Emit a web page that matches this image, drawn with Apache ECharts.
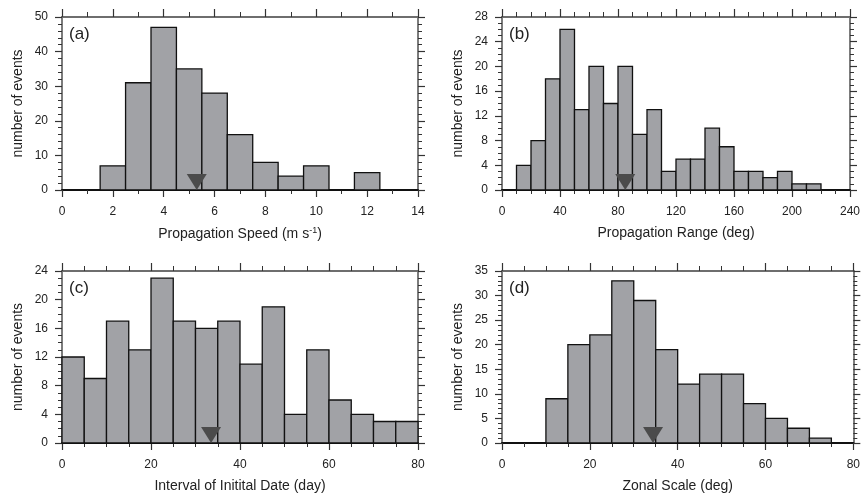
<!DOCTYPE html>
<html>
<head>
<meta charset="utf-8">
<script src="https://cdn.jsdelivr.net/npm/echarts@6/dist/echarts.min.js"></script>
<style>
  html, body { margin: 0; padding: 0; background: #fff; }
  #chart { width: 863px; height: 496px; }
</style>
</head>
<body>
<div id="chart"></div>
<script>
// histogram counts, one value per bin (bins start at binStart, width binWidth)
const speedBinStart = 1.5, speedBinWidth = 1;
const speedCounts = [7, 31, 47, 35, 28, 16, 8, 4, 7, 0, 5];
const speedMean = 5.3;

const rangeBinStart = 10, rangeBinWidth = 10;
const rangeCounts = [4, 8, 18, 26, 13, 20, 14, 20, 9, 13, 3, 5, 5, 10, 7, 3, 3, 2, 3, 1, 1];
const rangeMean = 85;

const intervalBinStart = 0, intervalBinWidth = 5;
const intervalCounts = [12, 9, 17, 13, 23, 17, 16, 17, 11, 19, 4, 13, 6, 4, 3, 3];
const intervalMean = 33.5;

const zonalBinStart = 10, zonalBinWidth = 5;
const zonalCounts = [9, 20, 22, 33, 29, 19, 12, 14, 14, 8, 5, 3, 1];
const zonalMean = 34.4;

const panelLabels = ['(a)', '(b)', '(c)', '(d)'];
const xNames = ['Propagation Speed (m s{sup|-1})', 'Propagation Range (deg)',
                'Interval of Initital Date (day)', 'Zonal Scale (deg)'];

const panels = [
  { start: speedBinStart, width: speedBinWidth, counts: speedCounts, mean: speedMean,
    xMax: 14, xInt: 2, xMinor: 2, yMax: 50, yInt: 10, yMinor: 5 },
  { start: rangeBinStart, width: rangeBinWidth, counts: rangeCounts, mean: rangeMean,
    xMax: 240, xInt: 40, xMinor: 4, yMax: 28, yInt: 4, yMinor: 4 },
  { start: intervalBinStart, width: intervalBinWidth, counts: intervalCounts, mean: intervalMean,
    xMax: 80, xInt: 20, xMinor: 4, yMax: 24, yInt: 4, yMinor: 4 },
  { start: zonalBinStart, width: zonalBinWidth, counts: zonalCounts, mean: zonalMean,
    xMax: 80, xInt: 20, xMinor: 4, yMax: 35, yInt: 5, yMinor: 5 }
];

const grids = [
  { left: 62, top: 17, width: 356, height: 173 },
  { left: 502, top: 17, width: 356, height: 173 },
  { left: 62, top: 271, width: 356, height: 172 },
  { left: 502, top: 271, width: 356, height: 172 }
];

const FONT = 'Liberation Sans';
const frameColor = '#6e6e6e';
const textColor = '#222';

const xAxes = [], yAxes = [], series = [], graphics = [];

panels.forEach((p, i) => {
  const tickBase = {
    show: true, inside: false, length: 7,
    lineStyle: { color: '#333', width: 1.2 }
  };
  const minorBase = {
    show: true, splitNumber: 0, length: 4,
    lineStyle: { color: '#333', width: 1 }
  };
  // bottom x axis
  xAxes.push({
    gridIndex: i, type: 'value', position: 'bottom',
    min: 0, max: p.xMax, interval: p.xInt,
    name: xNames[i], nameLocation: 'middle', nameGap: 36,
    nameTextStyle: {
      fontFamily: FONT, fontSize: 14, color: textColor,
      rich: { sup: { fontFamily: FONT, fontSize: 9, color: textColor, verticalAlign: 'top', padding: [0, 0, 8, 0] } }
    },
    axisLine: { show: true, onZero: false, lineStyle: { color: '#111', width: 2 } },
    axisTick: tickBase,
    minorTick: Object.assign({}, minorBase, { splitNumber: p.xMinor }),
    axisLabel: { margin: 16, fontFamily: FONT, fontSize: 12, color: textColor },
    splitLine: { show: false }
  });
  // top mirror axis (ticks only)
  xAxes.push({
    gridIndex: i, type: 'value', position: 'top',
    min: 0, max: p.xMax, interval: p.xInt,
    axisLine: { show: true, onZero: false, lineStyle: { color: frameColor, width: 1.8 } },
    axisTick: Object.assign({}, tickBase, { length: 8 }),
    minorTick: Object.assign({}, minorBase, { splitNumber: p.xMinor, length: 5 }),
    axisLabel: { show: false },
    splitLine: { show: false }
  });
  // left y axis
  yAxes.push({
    gridIndex: i, type: 'value', position: 'left',
    min: 0, max: p.yMax, interval: p.yInt,
    name: 'number of events', nameLocation: 'middle', nameGap: 37,
    nameTextStyle: { fontFamily: FONT, fontSize: 14, color: textColor },
    axisLine: { show: true, onZero: false, lineStyle: { color: frameColor, width: 1.8 } },
    axisTick: tickBase,
    minorTick: Object.assign({}, minorBase, { splitNumber: p.yMinor }),
    axisLabel: { margin: 14, fontFamily: FONT, fontSize: 12, color: textColor },
    splitLine: { show: false }
  });
  // right mirror axis (ticks only)
  yAxes.push({
    gridIndex: i, type: 'value', position: 'right',
    min: 0, max: p.yMax, interval: p.yInt,
    axisLine: { show: true, onZero: false, lineStyle: { color: frameColor, width: 1.8 } },
    axisTick: tickBase,
    minorTick: Object.assign({}, minorBase, { splitNumber: p.yMinor }),
    axisLabel: { show: false },
    splitLine: { show: false }
  });

  const binData = p.counts.map((c, k) => [p.start + k * p.width, p.start + (k + 1) * p.width, c]);

  series.push({
    type: 'custom',
    xAxisIndex: 2 * i, yAxisIndex: 2 * i,
    data: binData,
    encode: { x: [0, 1], y: 2 },
    z: 2,
    renderItem: (params, api) => {
      const x0 = api.value(0), x1 = api.value(1), c = api.value(2);
      const tl = api.coord([x0, c]);
      const br = api.coord([x1, 0]);
      return {
        type: 'rect',
        shape: { x: tl[0], y: tl[1], width: br[0] - tl[0], height: br[1] - tl[1] },
        style: { fill: '#a1a2a6', stroke: '#111', lineWidth: 1.3 }
      };
    }
  });

  series.push({
    type: 'scatter',
    xAxisIndex: 2 * i, yAxisIndex: 2 * i,
    data: [[p.mean, 0]],
    symbol: 'path://M0,0 L20,0 L10,16 Z',
    symbolSize: [20, 16],
    symbolOffset: [0, -8],
    itemStyle: { color: '#4b4b4b', opacity: 1 },
    z: 5,
    silent: true
  });

  graphics.push({
    type: 'text',
    left: grids[i].left + 7,
    top: grids[i].top + 9,
    style: { text: panelLabels[i], fontFamily: FONT, fontSize: 17, fill: textColor }
  });
});

const chart = echarts.init(document.getElementById('chart'), null, { renderer: 'canvas' });
chart.setOption({
  backgroundColor: '#fff',
  animation: false,
  grid: grids,
  xAxis: xAxes,
  yAxis: yAxes,
  series: series,
  graphic: graphics
});
</script>
</body>
</html>
